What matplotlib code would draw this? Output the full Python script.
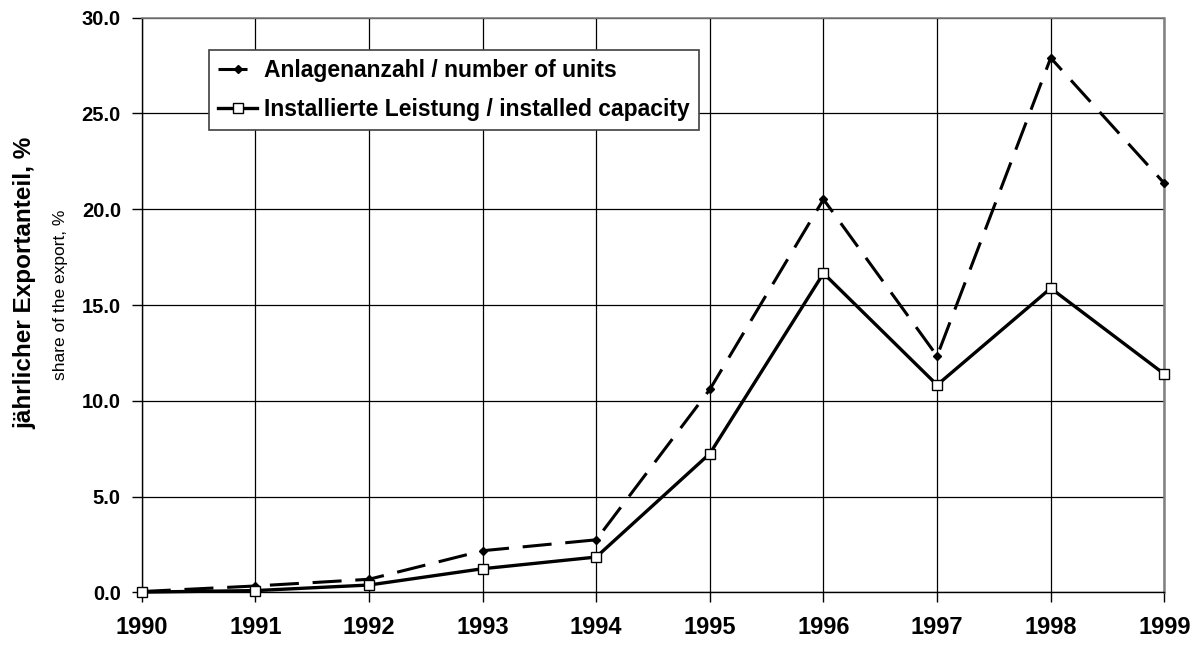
import matplotlib
matplotlib.use('Agg')
import matplotlib.pyplot as plt

plt.rcParams['font.family'] = ['Liberation Sans', 'DejaVu Sans']

years = [1990, 1991, 1992, 1993, 1994, 1995, 1996, 1997, 1998, 1999]
units = [0.05, 0.34, 0.69, 2.18, 2.75, 10.6, 20.52, 12.34, 27.9, 21.35]
capacity = [0.02, 0.1, 0.39, 1.24, 1.85, 7.25, 16.66, 10.83, 15.88, 11.4]
yticks = [0, 5, 10, 15, 20, 25, 30]

fig = plt.figure(figsize=(12, 6.45), dpi=100)
ax = fig.add_axes([0.1181, 0.0814, 0.8522, 0.8912])

# dashed series first, solid on top
ax.plot(years, units, color='black', lw=2.2, dashes=(9.5, 4.5),
        marker='D', ms=4.5, mfc='black', mec='black',
        label='Anlagenanzahl / number of units', clip_on=False, zorder=3)
ax.plot(years, capacity, color='black', lw=2.4, marker='s', ms=6.5,
        mfc='white', mec='black', mew=1.0,
        label='Installierte Leistung / installed capacity', clip_on=False, zorder=4)

ax.set_xlim(1990, 1999)
ax.set_ylim(0, 30)
ax.set_xticks(years)
ax.set_xticklabels([str(y) for y in years], fontsize=17, fontweight='bold')
ax.set_yticks(yticks)
ax.set_yticklabels(['%.1f' % v for v in yticks], fontsize=14.5, fontweight='bold')
ax.tick_params(axis='both', direction='out', length=7, width=1, color='black')
ax.tick_params(axis='x', pad=10)
ax.tick_params(axis='y', pad=8)

ax.grid(True, color='black', lw=0.9)
ax.set_axisbelow(True)
ax.spines['top'].set_color('#808080')
ax.spines['top'].set_linewidth(1.2)
ax.spines['right'].set_color('#808080')
ax.spines['right'].set_linewidth(1.8)
for side in ['left', 'bottom']:
    ax.spines[side].set_color('black')
    ax.spines[side].set_linewidth(1.0)

leg = ax.legend(loc='upper left', bbox_to_anchor=(0.0658, 0.944), borderaxespad=0,
                fancybox=False, framealpha=1, edgecolor='#404040',
                prop={'weight': 'bold', 'size': 16.5}, handlelength=1.7,
                handletextpad=0.3, borderpad=0.4, labelspacing=0.7)
leg.get_frame().set_linewidth(1.2)

fig.text(0.021, 0.561, 'jährlicher Exportanteil, %', rotation=90, fontsize=17.5,
         fontweight='bold', ha='center', va='center')
fig.text(0.05, 0.543, 'share of the export, %', rotation=90, fontsize=12.5,
         ha='center', va='center')

fig.savefig('out.png', dpi=100)
